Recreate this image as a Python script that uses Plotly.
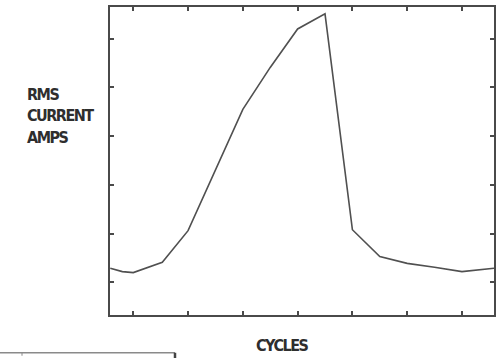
import plotly.graph_objects as go

# Data (arbitrary units)
cycles = [0.16, 0.6, 1.0, 2.06, 3.0, 4.0, 5.0, 6.0, 7.0, 8.0, 9.0, 10.0, 11.0, 12.0, 13.0, 14.17]
rms_current = [1.29, 1.22, 1.20, 1.41, 2.06, 3.29, 4.55, 5.41, 6.20, 6.51, 2.08, 1.53, 1.39, 1.31, 1.22, 1.29]
x_ticks = [1, 3, 5, 7, 9, 11, 13]
y_ticks = [1, 2, 3, 4, 5, 6]
y_label_lines = ["RMS", "CURRENT", "AMPS"]
x_label = "CYCLES"

FONT = "DejaVu Sans Condensed, Liberation Sans Narrow, DejaVu Sans, sans-serif"
INK = "#4a4a4a"

def cond(t):
    return f'<b><span style="font-stretch:condensed;letter-spacing:-1.5px">{t}</span></b>'

fig = go.Figure()
fig.add_trace(go.Scatter(x=cycles, y=rms_current, mode="lines",
                         line=dict(color="#505050", width=1.6), showlegend=False,
                         hoverinfo="skip"))

axis_common = dict(showgrid=False, zeroline=False, showticklabels=False,
                   showline=True, linecolor=INK, linewidth=2, mirror="ticks",
                   ticks="inside", ticklen=4, tickwidth=1.5, tickcolor=INK)
fig.update_xaxes(range=[0.15, 14.17], tickvals=x_ticks, **axis_common)
fig.update_yaxes(range=[0.33, 6.65], tickvals=y_ticks, **axis_common)

W, H = 501, 358
L, R, T, B = 110, 7, 5, 43
pw, ph = W - L - R, H - T - B

def px(xp):
    return (xp - L) / pw

def py(yp):
    return (H - B - yp) / ph

annotations = []
for i, line in enumerate(y_label_lines):
    annotations.append(dict(text=cond(line), x=px(25), y=py(93 + i * 21.5),
                            xref="paper", yref="paper", xanchor="left", yanchor="middle",
                            showarrow=False, font=dict(family=FONT, size=16, color="#2e2e2e")))
annotations.append(dict(text=cond(x_label), x=px(282), y=py(346),
                        xref="paper", yref="paper", xanchor="center", yanchor="middle",
                        showarrow=False, font=dict(family=FONT, size=16, color="#2e2e2e")))

shapes = [
    dict(type="line", xref="paper", yref="paper", x0=px(0), x1=px(175), y0=py(353), y1=py(353),
         line=dict(color="#8a8a8a", width=1.5)),
    dict(type="line", xref="paper", yref="paper", x0=px(175), x1=px(175), y0=py(353), y1=py(362),
         line=dict(color="#444444", width=2.5)),
    dict(type="line", xref="paper", yref="paper", x0=px(22), x1=px(22), y0=py(353), y1=py(356),
         line=dict(color="#8a8a8a", width=1)),
]

fig.update_layout(width=W, height=H, margin=dict(l=L, r=R, t=T, b=B),
                  paper_bgcolor="white", plot_bgcolor="white",
                  annotations=annotations, shapes=shapes)

fig.write_html("out.html", config={"displayModeBar": False},
               post_script="document.body.style.margin='0';document.body.style.padding='0';"
                           "document.body.style.overflow='hidden';")
